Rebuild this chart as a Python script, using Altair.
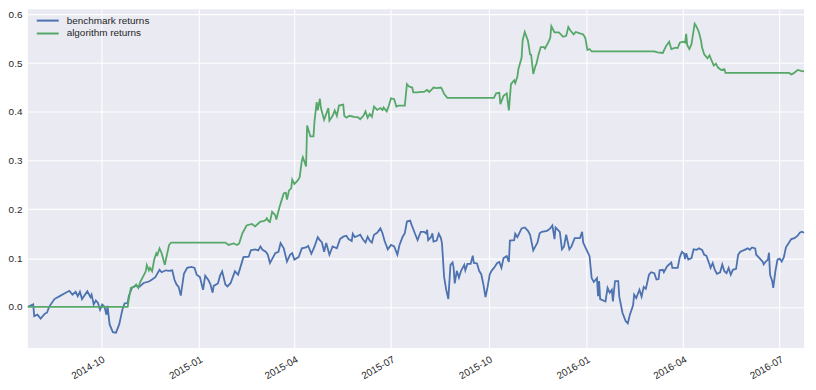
import altair as alt
import pandas as pd

START = "2014-07-24"
END = "2016-07-24"

SERIES = ["benchmark returns", "algorithm returns"]
COLORS = ["#4C72B0", "#55A868"]
Y_TICKS = [0.0, 0.1, 0.2, 0.3, 0.4, 0.5, 0.6]
X_TICKS = ["2014-10-01", "2015-01-01", "2015-04-01", "2015-07-01",
           "2015-10-01", "2016-01-01", "2016-04-01", "2016-07-01"]

# days since START
BENCH_DAYS = [0, 5, 6, 9, 12, 16, 18, 20, 25, 30, 34, 39, 42, 45, 47, 49, 51, 56, 59, 60,
              62, 64, 66, 68, 70, 72, 74, 75, 77, 80, 83, 86, 88, 89, 91, 94, 95, 98, 101, 105,
              109, 114, 117, 120, 124, 126, 130, 133, 136, 138, 140, 142, 144, 147, 150, 154, 157, 159, 162, 165,
              167, 170, 172, 174, 175, 179, 181, 183, 184, 186, 188, 191, 193, 195, 198, 200, 203, 208, 210, 214,
              217, 219, 221, 224, 226, 228, 230, 233, 236, 238, 241, 244, 247, 249, 251, 255, 258, 262, 264, 267,
              270, 273, 275, 277, 279, 281, 284, 287, 291, 294, 297, 300, 302, 305, 306, 308, 311, 313, 316, 318,
              320, 322, 324, 326, 329, 332, 334, 336, 339, 342, 345, 348, 350, 353, 355, 357, 360, 362, 365, 367,
              370, 373, 375, 376, 377, 380, 381, 382, 385, 387, 389, 390, 392, 394, 396, 398, 400, 401, 402, 404,
              406, 408, 411, 412, 414, 417, 419, 420, 423, 425, 427, 429, 431, 433, 435, 437, 439, 442, 444, 446,
              448, 451, 453, 454, 458, 459, 461, 465, 468, 471, 473, 476, 478, 480, 482, 484, 489, 492, 494, 496,
              497, 501, 503, 505, 507, 510, 512, 515, 520, 522, 523, 526, 529, 531, 533, 536, 537, 538, 539, 544,
              546, 548, 550, 551, 553, 556, 557, 560, 563, 565, 567, 570, 571, 573, 576, 578, 580, 582, 585, 587,
              590, 592, 594, 595, 598, 599, 602, 606, 607, 612, 614, 616, 618, 619, 620, 622, 625, 627, 630, 632,
              635, 637, 639, 642, 643, 645, 647, 649, 652, 654, 656, 658, 660, 662, 664, 667, 669, 671, 675, 678,
              680, 682, 685, 686, 689, 692, 693, 695, 697, 698, 699, 701, 702, 704, 706, 708, 710, 712, 714, 716,
              719, 722, 725, 727, 729, 731]
BENCH_VALS = [0.000, 0.005, -0.019, -0.016, -0.024, -0.014, -0.012, 0.000, 0.016, 0.022, 0.027, 0.033, 0.025, 0.031, 0.022, 0.031, 0.016, 0.032, 0.020, 0.025,
              0.005, 0.013, 0.008, -0.006, 0.005, 0.001, -0.016, 0.002, -0.036, -0.052, -0.053, -0.036, -0.016, -0.006, 0.007, 0.008, 0.022, 0.039, 0.043, 0.041,
              0.049, 0.052, 0.056, 0.061, 0.076, 0.071, 0.075, 0.074, 0.075, 0.056, 0.046, 0.041, 0.023, 0.068, 0.080, 0.082, 0.080, 0.066, 0.061, 0.035,
              0.064, 0.055, 0.046, 0.029, 0.043, 0.048, 0.064, 0.073, 0.064, 0.046, 0.042, 0.049, 0.061, 0.073, 0.066, 0.080, 0.102, 0.103, 0.116, 0.118,
              0.116, 0.124, 0.117, 0.113, 0.107, 0.090, 0.098, 0.110, 0.113, 0.131, 0.120, 0.093, 0.107, 0.110, 0.097, 0.102, 0.120, 0.122, 0.125, 0.109,
              0.124, 0.143, 0.137, 0.132, 0.113, 0.131, 0.107, 0.124, 0.120, 0.139, 0.144, 0.146, 0.139, 0.135, 0.150, 0.143, 0.146, 0.148, 0.137, 0.132,
              0.144, 0.136, 0.132, 0.148, 0.152, 0.161, 0.151, 0.135, 0.118, 0.127, 0.124, 0.107, 0.127, 0.144, 0.151, 0.175, 0.177, 0.165, 0.148, 0.137,
              0.154, 0.154, 0.151, 0.158, 0.137, 0.144, 0.151, 0.134, 0.136, 0.150, 0.141, 0.131, 0.062, 0.035, 0.016, 0.086, 0.091, 0.080, 0.048, 0.074,
              0.060, 0.074, 0.086, 0.075, 0.088, 0.088, 0.105, 0.090, 0.089, 0.074, 0.067, 0.046, 0.020, 0.041, 0.067, 0.075, 0.080, 0.090, 0.092, 0.080,
              0.100, 0.104, 0.092, 0.136, 0.137, 0.150, 0.143, 0.161, 0.163, 0.156, 0.148, 0.116, 0.124, 0.132, 0.151, 0.154, 0.156, 0.161, 0.167, 0.139,
              0.163, 0.154, 0.118, 0.124, 0.148, 0.118, 0.124, 0.141, 0.141, 0.154, 0.132, 0.118, 0.104, 0.059, 0.051, 0.059, 0.022, 0.053, 0.016, 0.011,
              0.039, 0.029, 0.035, 0.011, 0.053, 0.053, 0.021, -0.012, -0.029, -0.034, -0.016, 0.003, 0.025, 0.018, 0.035, 0.021, 0.041, 0.037, 0.066, 0.071,
              0.069, 0.056, 0.057, 0.075, 0.076, 0.071, 0.083, 0.091, 0.080, 0.080, 0.102, 0.113, 0.109, 0.098, 0.110, 0.097, 0.100, 0.118, 0.117, 0.120,
              0.117, 0.107, 0.105, 0.087, 0.080, 0.090, 0.076, 0.068, 0.071, 0.087, 0.073, 0.069, 0.080, 0.066, 0.076, 0.078, 0.107, 0.113, 0.117, 0.120,
              0.117, 0.122, 0.120, 0.107, 0.100, 0.093, 0.087, 0.093, 0.097, 0.111, 0.066, 0.053, 0.039, 0.073, 0.097, 0.099, 0.093, 0.102, 0.122, 0.129,
              0.139, 0.141, 0.146, 0.152, 0.154, 0.152]

ALGO_DAYS = [0, 94, 95, 97, 100, 102, 104, 106, 109, 111, 112, 114, 115, 117, 119, 121, 122, 124, 126, 129,
             130, 133, 135, 186, 189, 194, 197, 199, 202, 206, 211, 214, 217, 219, 222, 224, 225, 227, 228, 230,
             233, 234, 237, 239, 241, 243, 244, 246, 248, 249, 251, 254, 256, 258, 259, 262, 263, 265, 266, 269,
             270, 272, 273, 275, 276, 279, 281, 283, 284, 287, 289, 291, 293, 297, 298, 300, 303, 307, 311, 313,
             316, 318, 320, 322, 324, 326, 329, 332, 334, 335, 338, 340, 342, 345, 347, 349, 355, 357, 359, 362,
             363, 367, 370, 373, 376, 378, 380, 382, 385, 389, 390, 392, 395, 439, 441, 444, 445, 448, 451, 453,
             455, 458, 459, 461, 462, 465, 466, 468, 471, 473, 474, 476, 478, 479, 481, 483, 486, 487, 490, 492,
             493, 496, 500, 502, 504, 507, 509, 511, 514, 516, 520, 523, 525, 527, 529, 531, 590, 593, 598, 601,
             604, 606, 610, 612, 614, 617, 619, 620, 621, 623, 625, 628, 629, 631, 632, 634, 635, 637, 640, 642,
             644, 646, 648, 650, 653, 656, 657, 717, 719, 721, 725, 728, 731]
ALGO_VALS = [0.000, 0.000, 0.015, 0.039, 0.041, 0.046, 0.039, 0.052, 0.064, 0.073, 0.086, 0.075, 0.080, 0.073, 0.097, 0.110, 0.107, 0.120, 0.110, 0.086,
             0.097, 0.127, 0.132, 0.132, 0.127, 0.130, 0.127, 0.130, 0.151, 0.167, 0.170, 0.165, 0.171, 0.175, 0.176, 0.178, 0.182, 0.175, 0.174, 0.195,
             0.188, 0.179, 0.205, 0.219, 0.233, 0.234, 0.220, 0.239, 0.243, 0.261, 0.252, 0.259, 0.266, 0.300, 0.307, 0.288, 0.372, 0.358, 0.350, 0.350,
             0.382, 0.420, 0.403, 0.427, 0.408, 0.384, 0.396, 0.408, 0.382, 0.392, 0.403, 0.392, 0.413, 0.415, 0.392, 0.388, 0.392, 0.390, 0.389, 0.385,
             0.392, 0.401, 0.388, 0.396, 0.390, 0.411, 0.404, 0.408, 0.404, 0.409, 0.401, 0.413, 0.428, 0.426, 0.411, 0.413, 0.413, 0.457, 0.452, 0.450,
             0.440, 0.440, 0.441, 0.441, 0.445, 0.441, 0.445, 0.450, 0.449, 0.450, 0.447, 0.437, 0.429, 0.429, 0.438, 0.439, 0.416, 0.433, 0.438, 0.403,
             0.457, 0.465, 0.459, 0.472, 0.488, 0.511, 0.547, 0.564, 0.546, 0.518, 0.517, 0.478, 0.494, 0.499, 0.518, 0.533, 0.533, 0.530, 0.542, 0.552,
             0.576, 0.563, 0.563, 0.559, 0.554, 0.556, 0.574, 0.567, 0.559, 0.564, 0.561, 0.559, 0.552, 0.527, 0.529, 0.524, 0.524, 0.522, 0.521, 0.535,
             0.544, 0.529, 0.532, 0.531, 0.542, 0.544, 0.542, 0.560, 0.537, 0.529, 0.539, 0.581, 0.578, 0.569, 0.564, 0.546, 0.532, 0.518, 0.510, 0.516,
             0.505, 0.495, 0.499, 0.491, 0.486, 0.488, 0.480, 0.480, 0.477, 0.479, 0.486, 0.484, 0.483]

start = pd.Timestamp(START)


def frame(days, vals, name):
    return pd.DataFrame({
        "date": [(start + pd.Timedelta(days=d)).strftime("%Y-%m-%d") for d in days],
        "value": vals,
        "series": name,
    })


bench_df = frame(BENCH_DAYS, BENCH_VALS, SERIES[0])
algo_df = frame(ALGO_DAYS, ALGO_VALS, SERIES[1])


def ms(s):
    return int(pd.Timestamp(s).value // 10**6)


FONT = "Liberation Sans"

x_enc = alt.X(
    "date:T",
    title=None,
    scale=alt.Scale(type="utc", domain=[ms(START), ms(END)], nice=False),
    axis=alt.Axis(values=[ms(t) for t in X_TICKS], format="%Y-%m", labelAngle=-30,
                  labelAlign="right", labelBaseline="top", labelPadding=6),
)
y_enc = alt.Y(
    "value:Q",
    title=None,
    scale=alt.Scale(domain=[-0.0845, 0.6108], nice=False, zero=False),
    axis=alt.Axis(values=Y_TICKS, format=".1f", labelPadding=6),
)
color_enc = alt.Color(
    "series:N",
    scale=alt.Scale(domain=SERIES, range=COLORS),
    legend=alt.Legend(orient="none", legendX=12.5, legendY=4, title=None,
                      symbolType="M-1.7,0H1.7", symbolSize=169, symbolStrokeWidth=2,
                      symbolFillColor="transparent",
                      labelFontSize=10, labelFont=FONT, labelColor="#262626",
                      rowPadding=0, labelOffset=11.5),
)

bench = alt.Chart(bench_df).mark_line(strokeWidth=1.8).encode(x=x_enc, y=y_enc, color=color_enc)
algo = alt.Chart(algo_df).mark_line(strokeWidth=1.8).encode(x=x_enc, y=y_enc, color=color_enc)

chart = (
    alt.layer(bench, algo)
    .properties(width=781, height=341, padding=0, background="white")
    .configure_view(stroke=None, fill="#EAEAF2")
    .configure_axis(grid=True, gridColor="white", gridWidth=1.1, domain=False, ticks=False,
                    labelFont=FONT, labelFontSize=10, labelColor="#262626")
)

chart.save("out.html", embed_options={"renderer": "svg", "actions": False})
